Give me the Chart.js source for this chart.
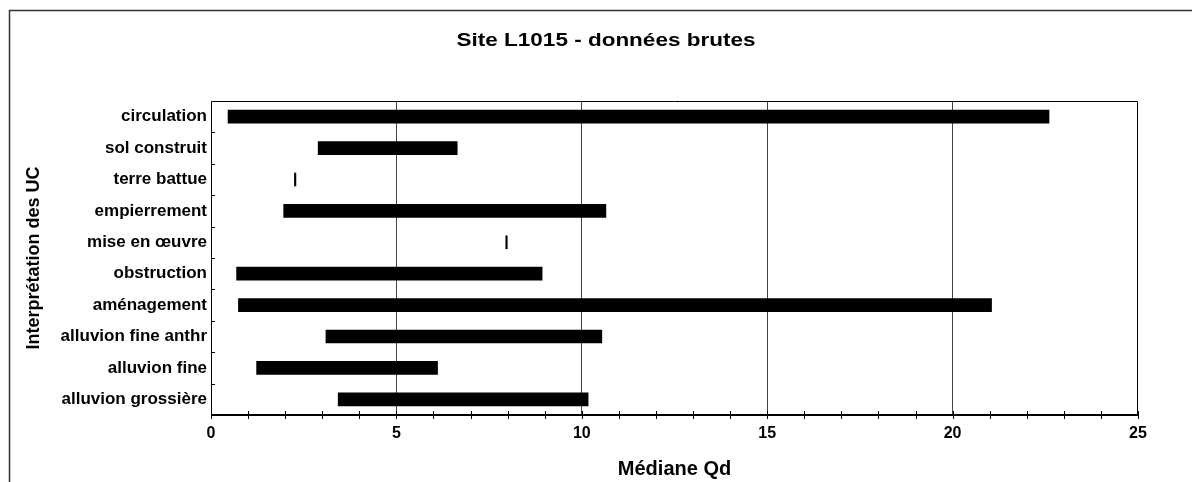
<!DOCTYPE html>
<html>
<head>
<meta charset="utf-8">
<script src="https://cdn.jsdelivr.net/npm/chart.js@4"></script>
<style>
  body { margin: 0; background: #fff; }
</style>
</head>
<body>
<canvas id="qd" width="1192" height="482"></canvas>
<script>
const categories = ['circulation', 'sol construit', 'terre battue', 'empierrement', 'mise en œuvre',
    'obstruction', 'aménagement', 'alluvion fine anthr', 'alluvion fine', 'alluvion grossière'];
const qdMin = [0.46, 2.89, 2.25, 1.96, 7.95, 0.69, 0.74, 3.10, 1.23, 3.43];
const qdMax = [22.6, 6.64, 2.29, 10.65, 7.99, 8.93, 21.05, 10.54, 6.11, 10.17];
const xTicks = [0, 5, 10, 15, 20, 25];
const chartTitle = 'Site L1015 - données brutes';

const font = 'Liberation Sans, Arial, sans-serif';

// outer frame, stretched title, plot frame, axis line and the little tick marks
const frame = {
    id: 'frame',
    beforeDraw(chart) {
        const ctx = chart.ctx;
        ctx.save();
        ctx.fillStyle = '#fff';
        ctx.fillRect(0, 0, chart.width, chart.height);
        ctx.strokeStyle = '#333';
        ctx.lineWidth = 1.5;
        ctx.beginPath();
        ctx.moveTo(9.5, chart.height);
        ctx.lineTo(9.5, 10.5);
        ctx.lineTo(chart.width, 10.5);
        ctx.stroke();

        ctx.translate(606, 41);
        ctx.scale(1.25, 1);
        ctx.fillStyle = '#000';
        ctx.font = 'bold 18px ' + font;
        ctx.textAlign = 'center';
        ctx.textBaseline = 'middle';
        ctx.fillText(chartTitle, 0, 0);
        ctx.restore();
    },
    afterDraw(chart) {
        const ctx = chart.ctx;
        const a = chart.chartArea;
        const x = chart.scales.x, y = chart.scales.y;
        ctx.save();
        ctx.strokeStyle = '#000';
        ctx.lineWidth = 1;
        ctx.beginPath();
        ctx.moveTo(a.left + 0.5, a.bottom);
        ctx.lineTo(a.left + 0.5, a.top + 0.5);
        ctx.lineTo(a.right - 0.5, a.top + 0.5);
        ctx.lineTo(a.right - 0.5, a.bottom);
        ctx.stroke();
        for (let v = 0; v <= 25; v++) {
            const px = Math.round(x.getPixelForValue(v)) + 0.5;
            ctx.beginPath();
            ctx.moveTo(px, a.bottom - 4);
            ctx.lineTo(px, a.bottom + 4);
            ctx.stroke();
        }
        for (let i = 1; i < categories.length; i++) {
            const py = Math.round((y.getPixelForValue(i - 1) + y.getPixelForValue(i)) / 2) + 0.5;
            ctx.beginPath();
            ctx.moveTo(a.left, py);
            ctx.lineTo(a.left + 4, py);
            ctx.stroke();
        }
        ctx.lineWidth = 2;
        ctx.beginPath();
        ctx.moveTo(a.left, a.bottom);
        ctx.lineTo(a.right, a.bottom);
        ctx.stroke();
        ctx.restore();
    }
};

new Chart(document.getElementById('qd'), {
    type: 'bar',
    data: {
        labels: categories,
        datasets: [{
            label: 'Médiane Qd',
            data: categories.map((c, i) => [qdMin[i], qdMax[i]]),
            backgroundColor: '#000',
            borderWidth: 0,
            barThickness: 13
        }]
    },
    options: {
        indexAxis: 'y',
        responsive: false,
        animation: false,
        devicePixelRatio: 1,
        layout: { padding: { left: 0, right: 54, top: 101, bottom: 0 } },
        plugins: {
            legend: { display: false },
            tooltip: { enabled: false },
            title: { display: false }
        },
        scales: {
            x: {
                min: 0,
                max: 25,
                afterFit(s) { s.height = 67; },
                ticks: {
                    stepSize: 1,
                    autoSkip: false,
                    maxRotation: 0,
                    padding: 9,
                    color: '#000',
                    font: { family: font, size: 16, weight: 'bold' },
                    callback: v => xTicks.includes(v) ? v : ''
                },
                grid: {
                    drawTicks: false,
                    lineWidth: 1,
                    color: c => (c.tick && c.tick.value % 5 === 0 && c.tick.value > 0 && c.tick.value < 25) ? '#444' : 'rgba(0,0,0,0)'
                },
                border: { display: false },
                title: {
                    display: true,
                    text: 'Médiane Qd',
                    color: '#000',
                    font: { family: font, size: 20, weight: 'bold', lineHeight: 1.2 },
                    padding: { top: 0, bottom: 1 }
                }
            },
            y: {
                afterFit(s) { s.width = 211; },
                ticks: {
                    padding: 4,
                    color: '#000',
                    font: { family: font, size: 17, weight: 'bold' }
                },
                grid: { display: false, drawTicks: false },
                border: { display: false },
                title: {
                    display: true,
                    text: 'Interprétation des UC',
                    color: '#000',
                    font: { family: font, size: 18, weight: 'bold', lineHeight: 1.2 },
                    padding: { top: 23, bottom: 0 }
                }
            }
        }
    },
    plugins: [frame]
});
</script>
</body>
</html>
